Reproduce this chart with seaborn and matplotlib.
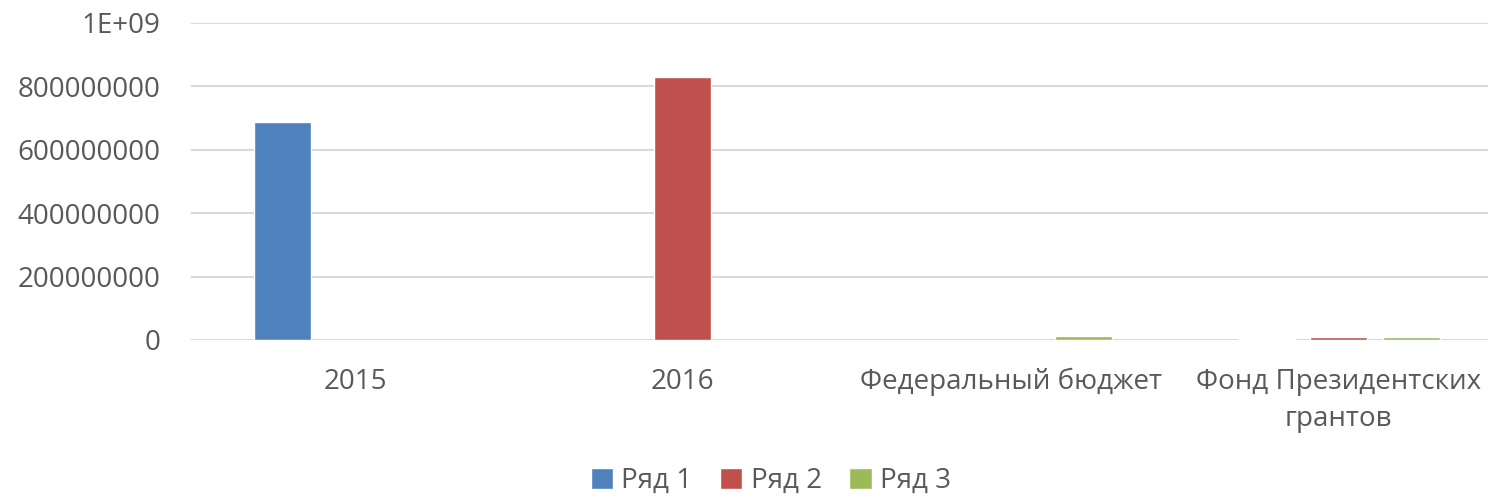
import numpy as np
import pandas as pd
import matplotlib
matplotlib.use("Agg")
import matplotlib.pyplot as plt
import seaborn as sns

# Chart data
categories = ["2015", "2016", "Федеральный бюджет", "Фонд Президентских\nгрантов"]
series = ["Ряд 1", "Ряд 2", "Ряд 3"]
ryad1 = [689000000, np.nan, np.nan, 3000000]
ryad2 = [np.nan, 831000000, np.nan, 8000000]
ryad3 = [np.nan, np.nan, 12000000, 8500000]
y_ticks = [0, 200000000, 400000000, 600000000, 800000000, 1000000000]
y_labels = ["0", "200000000", "400000000", "600000000", "800000000", "1E+09"]

colors = ["#4F81BD", "#C0504D", "#9BBB59"]
text_color = "#595959"

rows = []
for name, vals in zip(series, [ryad1, ryad2, ryad3]):
    for cat, v in zip(categories, vals):
        if not np.isnan(v):
            rows.append({"category": cat, "series": name, "value": v})
df = pd.DataFrame(rows)

sns.set_style("white")
plt.rcParams["font.family"] = ["Open Sans", "DejaVu Sans"]

fig = plt.figure(figsize=(14.88, 4.97), dpi=100)
ax = fig.add_axes([191 / 1488, 157 / 497, 1297 / 1488, 317 / 497])

sns.barplot(data=df, x="category", y="value", hue="series",
            order=categories, hue_order=series, palette=colors,
            width=0.662, gap=0.214, saturation=1, errorbar=None,
            legend=True, ax=ax)

ax.set_xlim(-0.5, 3.455)
ax.set_ylim(0, 1e9)
ax.set_yticks(y_ticks)
ax.set_yticklabels(y_labels)
ax.yaxis.grid(True, color="#D9D9D9", linewidth=1.5)
ax.set_axisbelow(True)
for s in ax.spines.values():
    s.set_visible(False)
ax.set_xlabel("")
ax.set_ylabel("")
ax.tick_params(axis="both", length=0, labelsize=20, colors=text_color)
ax.tick_params(axis="y", pad=22)
ax.tick_params(axis="x", pad=20)
for lbl in ax.get_xticklabels():
    lbl.set_linespacing(1.45)

handles, labels = ax.get_legend_handles_labels()
ax.get_legend().remove()
fig.legend(handles, labels, loc="center", bbox_to_anchor=(0.518, 0.032),
           ncol=3, frameon=False, fontsize=20, labelcolor=text_color,
           handlelength=0.8, handleheight=0.8, handletextpad=0.3,
           columnspacing=1.0)

fig.savefig("out.png", dpi=100)
